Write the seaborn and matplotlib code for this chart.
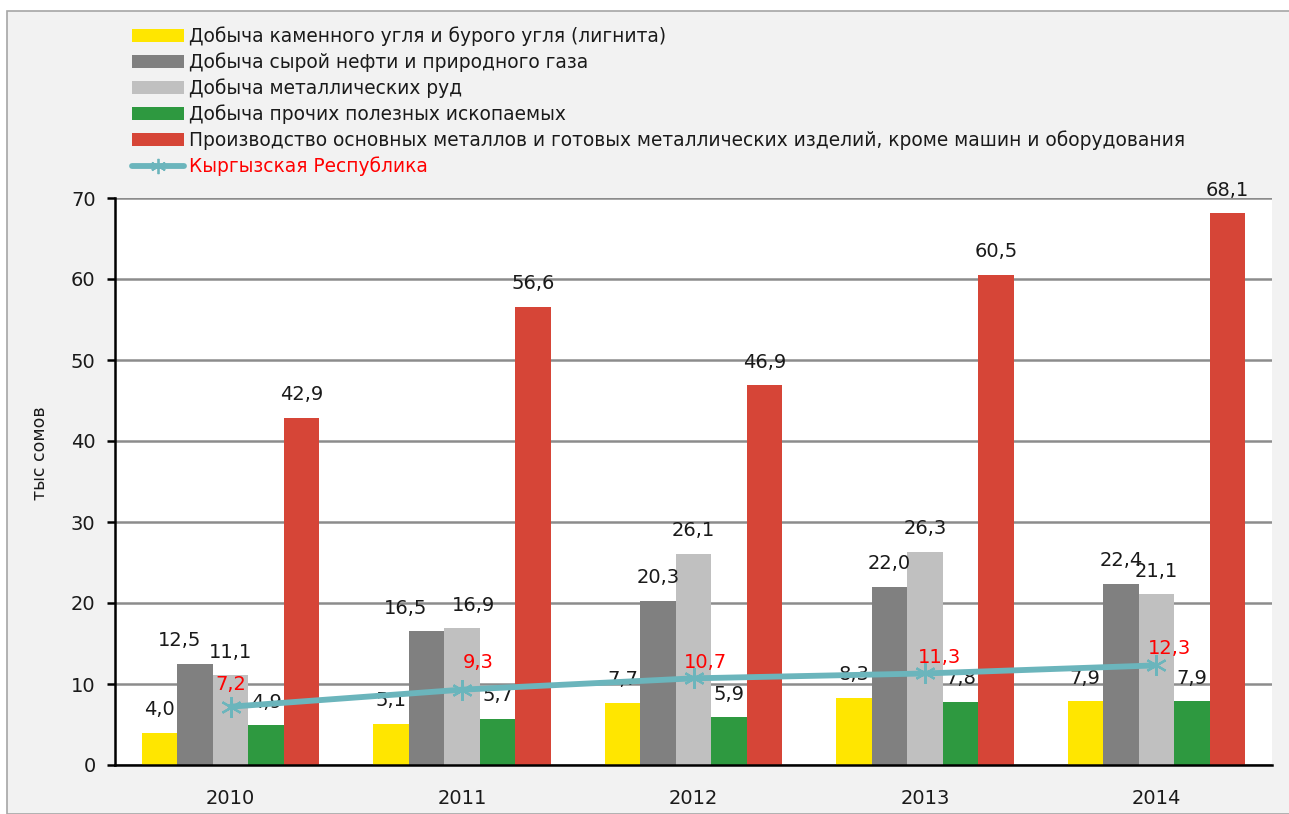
import numpy as np
import pandas as pd
import matplotlib
matplotlib.use("Agg")
import matplotlib.pyplot as plt
import seaborn as sns
from matplotlib.patches import Patch, Rectangle
from matplotlib.lines import Line2D

years = ["2010", "2011", "2012", "2013", "2014"]
series_names = [
    "Добыча каменного угля и бурого угля (лигнита)",
    "Добыча сырой нефти и природного газа",
    "Добыча металлических руд",
    "Добыча прочих полезных ископаемых",
    "Производство основных металлов и готовых металлических изделий, кроме машин и оборудования",
]
coal = [4.0, 5.1, 7.7, 8.3, 7.9]
oil_gas = [12.5, 16.5, 20.3, 22.0, 22.4]
metal_ores = [11.1, 16.9, 26.1, 26.3, 21.1]
other_minerals = [4.9, 5.7, 5.9, 7.8, 7.9]
basic_metals = [42.9, 56.6, 46.9, 60.5, 68.1]
kyrgyz_rep = [7.2, 9.3, 10.7, 11.3, 12.3]
line_name = "Кыргызская Республика"

colors = ["#FFE600", "#808080", "#C0C0C0", "#2E9940", "#D64537"]
line_color = "#6BB5BC"

series_values = [coal, oil_gas, metal_ores, other_minerals, basic_metals]

# label nudges in pixels (dx, dy) where the original chart moved labels
bar_label_nudge = {(1, 0): (-16, 0), (1, 1): (-21, 0), (2, 1): (11, 0)}
line_label_nudge = [(0, 22), (16, 27), (12, 16), (15, 16), (13, 17)]

rows = []
for name, vals in zip(series_names, series_values):
    for y, v in zip(years, vals):
        rows.append({"year": y, "series": name, "value": v})
df = pd.DataFrame(rows)

sns.set_theme(style="white")
plt.rcParams["font.family"] = ["DejaVu Sans"]

fig = plt.figure(figsize=(12.89, 8.14), dpi=100)
fig.patch.set_facecolor("white")
fig.patches.append(Rectangle((7 / 1289, 0), 1.0, 1 - 11 / 814, transform=fig.transFigure,
                             facecolor="#F2F2F2", edgecolor="#A6A6A6", linewidth=1.2, zorder=-10))

ax = fig.add_axes([115 / 1289, 1 - 765 / 814, (1272 - 115) / 1289, (765 - 198) / 814])
ax.set_facecolor("white")

sns.barplot(data=df, x="year", y="value", hue="series", hue_order=series_names,
            palette=colors, width=0.767, saturation=1, ax=ax, legend=False,
            errorbar=None, linewidth=0, zorder=3)

ax.set_ylim(0, 70)
ax.set_xlim(-0.5, 4.5)
ax.set_yticks(np.arange(0, 71, 10))
ax.yaxis.grid(True, color="#8C8C8C", linewidth=1.8, zorder=0)
ax.set_axisbelow(True)
for s in ["top", "right"]:
    ax.spines[s].set_visible(False)
for s in ["left", "bottom"]:
    ax.spines[s].set_color("black")
    ax.spines[s].set_linewidth(1.8)
    ax.spines[s].set_zorder(5)

ax.set_xticks(np.arange(5))
ax.set_xticklabels(years, fontsize=14, color="#1A1A1A")
ax.tick_params(axis="x", length=0, pad=17)
ax.set_xticks(np.arange(-0.5, 5.0, 1.0), minor=True)
ax.tick_params(axis="x", which="minor", length=6, width=1.8, color="black", direction="out")
ax.tick_params(axis="y", length=6, width=1.8, color="black", direction="out",
               labelsize=14, labelcolor="#1A1A1A", pad=8, left=True)
ax.set_xlabel("")
ax.set_ylabel("тыс сомов", fontsize=12.5, color="#1A1A1A")
ax.yaxis.set_label_coords(-0.057, 0.55)

PX = 0.72  # points per pixel at dpi 100

# value labels on bars
for si, (cont, vals) in enumerate(zip(ax.containers, series_values)):
    for yi, (bar, v) in enumerate(zip(cont.patches, vals)):
        cx = bar.get_x() + bar.get_width() / 2
        dx, dy = bar_label_nudge.get((si, yi), (0, 0))
        ax.annotate(f"{v:.1f}".replace(".", ","), (cx, v),
                    xytext=(dx * PX, (23 + dy) * PX),
                    textcoords="offset points", ha="center", va="center",
                    fontsize=14, color="#1A1A1A", zorder=6)

# line series
xpos = np.arange(len(years))
ax.plot(xpos, kyrgyz_rep, color=line_color, linewidth=4.2, marker=(6, 2, 0),
        markersize=15, markeredgewidth=1.6, markeredgecolor=line_color, zorder=6)
for (x, v), (dx, dy) in zip(zip(xpos, kyrgyz_rep), line_label_nudge):
    ax.annotate(f"{v:.1f}".replace(".", ","), (x, v), xytext=(dx * PX, dy * PX),
                textcoords="offset points", ha="center", va="center",
                fontsize=14, color="#FF0000", zorder=7)

# legend
handles = [Patch(facecolor=c, edgecolor="none") for c in colors]
handles.append(Line2D([0], [0], color=line_color, linewidth=4.2, marker=(6, 2, 0),
                      markersize=11, markeredgewidth=1.3, markeredgecolor=line_color))
labels = series_names + [line_name]
leg = fig.legend(handles, labels, loc="upper left", bbox_to_anchor=(132 / 1289, 1 - 26 / 814),
                 frameon=False, fontsize=13.4, handlelength=2.8, handleheight=0.68,
                 handletextpad=0.27, labelspacing=0.345, borderaxespad=0, borderpad=0)
for t in leg.get_texts():
    t.set_color("#1A1A1A")
leg.get_texts()[-1].set_color("#FF0000")

fig.savefig("out.png", dpi=100, facecolor=fig.get_facecolor())
